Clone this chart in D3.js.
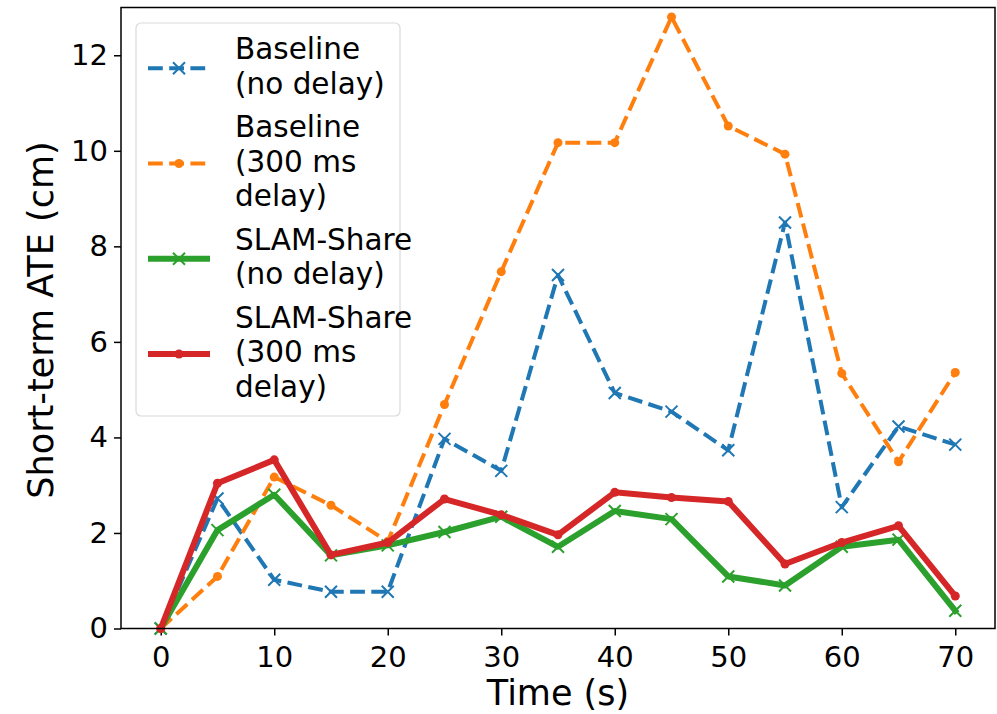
<!DOCTYPE html>
<html>
<head>
<meta charset="utf-8">
<script src="https://cdn.jsdelivr.net/npm/d3@7"></script>
<style>
  body { margin: 0; background: #fff; }
  svg { font-family: "DejaVu Sans", sans-serif; }
</style>
</head>
<body>
<svg id="chart" width="997" height="714"></svg>
<script>
// data
var times = [0, 5, 10, 15, 20, 25, 30, 35, 40, 45, 50, 55, 60, 65, 70];
var baselineNoDelay = [0, 2.72, 1.02, 0.77, 0.77, 3.97, 3.30, 7.40, 4.93, 4.54, 3.73, 8.50, 2.54, 4.23, 3.85];
var baseline300 = [0, 1.09, 3.17, 2.58, 1.82, 4.69, 7.47, 10.17, 10.17, 12.80, 10.52, 9.93, 5.34, 3.49, 5.36];
var slamNoDelay = [0, 2.06, 2.80, 1.53, 1.74, 2.02, 2.34, 1.71, 2.46, 2.29, 1.09, 0.90, 1.71, 1.86, 0.37];
var slam300 = [0, 3.04, 3.53, 1.54, 1.80, 2.71, 2.38, 1.96, 2.85, 2.74, 2.66, 1.35, 1.80, 2.15, 0.68];
var xTicks = [0, 10, 20, 30, 40, 50, 60, 70];
var yTicks = [0, 2, 4, 6, 8, 10, 12];

var series = [
  { lines: ["Baseline", "(no delay)"], values: baselineNoDelay, color: "#1f77b4", dashed: true, marker: "x" },
  { lines: ["Baseline", "(300 ms", "delay)"], values: baseline300, color: "#ff7f0e", dashed: true, marker: "dot" },
  { lines: ["SLAM-Share", "(no delay)"], values: slamNoDelay, color: "#2ca02c", dashed: false, marker: "x" },
  { lines: ["SLAM-Share", "(300 ms", "delay)"], values: slam300, color: "#d62728", dashed: false, marker: "dot" }
];

var margin = { top: 7.5, right: 2, bottom: 85.5, left: 121 };
var width = 997 - margin.left - margin.right;
var height = 714 - margin.top - margin.bottom;

var svg = d3.select("#chart");
var g = svg.append("g").attr("transform", "translate(" + margin.left + "," + margin.top + ")");

var x = d3.scaleLinear().domain([-3.5, 73.5]).range([0, width]);
var y = d3.scaleLinear().domain([0, 13]).range([height, 0]);

// axes
var xAxis = g.append("g")
  .attr("transform", "translate(0," + height + ")")
  .call(d3.axisBottom(x).tickValues(xTicks).tickSize(7).tickPadding(6).tickFormat(d3.format("d")));
var yAxis = g.append("g")
  .call(d3.axisLeft(y).tickValues(yTicks).tickSize(7).tickPadding(6).tickFormat(d3.format("d")));

[xAxis, yAxis].forEach(function(ax) {
  ax.select(".domain").remove();
  ax.selectAll(".tick line").attr("stroke", "#000").attr("stroke-width", 1.5);
  ax.selectAll(".tick text")
    .attr("fill", "#000")
    .style("font-family", "DejaVu Sans")
    .style("font-size", "29px");
});
xAxis.selectAll(".tick text").attr("dy", "0.88em");

// markers, drawn at pixel positions
function drawMarkers(sel, pts, s) {
  if (s.marker === "x") {
    var r = 6;
    sel.selectAll(null)
      .data(pts)
      .enter()
      .append("path")
      .attr("d", function(d) {
        return "M" + (d.px - r) + "," + (d.py - r) + "L" + (d.px + r) + "," + (d.py + r) +
               "M" + (d.px - r) + "," + (d.py + r) + "L" + (d.px + r) + "," + (d.py - r);
      })
      .attr("stroke", s.color)
      .attr("stroke-width", 2)
      .attr("fill", "none");
  } else {
    sel.selectAll(null)
      .data(pts)
      .enter()
      .append("circle")
      .attr("cx", function(d) { return d.px; })
      .attr("cy", function(d) { return d.py; })
      .attr("r", 4.5)
      .attr("fill", s.color);
  }
}

// lines
var line = d3.line()
  .x(function(d) { return d.px; })
  .y(function(d) { return d.py; });

var plot = g.append("g");

series.forEach(function(s) {
  var pts = times.map(function(t, i) { return { px: x(t), py: y(s.values[i]) }; });
  plot.append("path")
    .datum(pts)
    .attr("fill", "none")
    .attr("stroke", s.color)
    .attr("stroke-width", s.dashed ? 4 : 6)
    .attr("stroke-dasharray", s.dashed ? "14.8,6.4" : null)
    .attr("stroke-linejoin", "round")
    .attr("stroke-linecap", s.dashed ? "butt" : "square")
    .attr("d", line);
  drawMarkers(plot, pts, s);
});

// frame
g.append("rect")
  .attr("x", 0).attr("y", 0)
  .attr("width", width).attr("height", height)
  .attr("fill", "none")
  .attr("stroke", "#000")
  .attr("stroke-width", 1.5);

// axis labels
svg.append("text")
  .attr("x", margin.left + width / 2)
  .attr("y", 705)
  .attr("text-anchor", "middle")
  .style("font-size", "35px")
  .text("Time (s)");

svg.append("text")
  .attr("transform", "translate(53," + (margin.top + height / 2 + 2) + ") rotate(-90)")
  .attr("text-anchor", "middle")
  .style("font-size", "35px")
  .text("Short-term ATE (cm)");

// legend
var legend = svg.append("g").attr("class", "legend");
legend.append("rect")
  .attr("x", 136).attr("y", 23)
  .attr("width", 264).attr("height", 393)
  .attr("rx", 5)
  .attr("fill", "#fff").attr("fill-opacity", 0.8)
  .attr("stroke", "#d9d9d9").attr("stroke-width", 1.2);

var lineH = 34.5;
var baseY = 59;
series.forEach(function(s) {
  var item = legend.append("g");
  var hy = baseY + (s.lines.length - 1) * lineH / 2 - 8;
  item.append("line")
    .attr("x1", 148).attr("x2", 210)
    .attr("y1", hy).attr("y2", hy)
    .attr("stroke", s.color)
    .attr("stroke-width", s.dashed ? 4 : 6)
    .attr("stroke-dasharray", s.dashed ? "14.8,6.4" : null);
  drawMarkers(item, [{ px: 179, py: hy }], s);
  item.append("text")
    .attr("x", 235)
    .attr("y", baseY)
    .style("font-size", "29.5px")
    .selectAll("tspan")
    .data(s.lines)
    .enter()
    .append("tspan")
    .attr("x", 235)
    .attr("dy", function(d, i) { return i === 0 ? 0 : lineH; })
    .text(function(d) { return d; });
  baseY += s.lines.length * lineH + 9;
});
</script>
</body>
</html>
